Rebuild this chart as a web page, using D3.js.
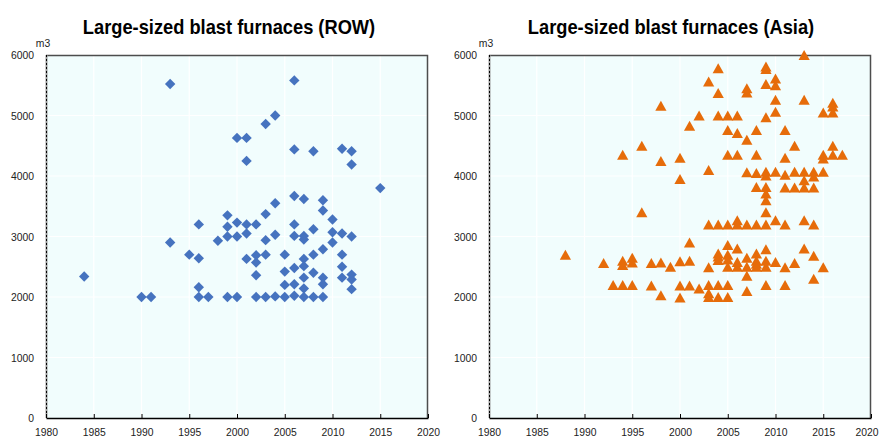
<!DOCTYPE html>
<html>
<head>
<meta charset="utf-8">
<script src="https://cdn.jsdelivr.net/npm/d3@7"></script>
<style>
  html, body { margin: 0; padding: 0; background: #fff; }
  svg { display: block; }
  text { font-family: "Liberation Sans Narrow", "Arial Narrow", "Liberation Sans", Arial, sans-serif; }
</style>
</head>
<body>
<svg id="chart" width="882" height="439"></svg>
<script>
// ---------- data ----------
const titles = ["Large-sized blast furnaces (ROW)", "Large-sized blast furnaces (Asia)"];
const unitLabel = "m3";
const xTicks = [1980, 1985, 1990, 1995, 2000, 2005, 2010, 2015, 2020];
const yTicks = [0, 1000, 2000, 3000, 4000, 5000, 6000];

// ROW: [start-up year, volume m3]
const rowPoints = [
  [1984, 2340], [1990, 2000], [1991, 2000],
  [1993, 5520], [1993, 2900], [1995, 2700],
  [1996, 3200], [1996, 2640], [1996, 2160], [1996, 2000],
  [1997, 2000], [1998, 2930],
  [1999, 3350], [1999, 3160], [1999, 3000], [1999, 2000],
  [2000, 4630], [2000, 3230], [2000, 3000], [2000, 2000],
  [2001, 4630], [2001, 4250], [2001, 3200], [2001, 3050], [2001, 2630],
  [2002, 3200], [2002, 2690], [2002, 2570], [2002, 2360], [2002, 2000],
  [2003, 4860], [2003, 3370], [2003, 2940], [2003, 2700], [2003, 2000],
  [2004, 5000], [2004, 3550], [2004, 3030], [2004, 2010],
  [2005, 2700], [2005, 2420], [2005, 2200], [2005, 2000],
  [2006, 5580], [2006, 4440], [2006, 3670], [2006, 3200], [2006, 3010], [2006, 2480], [2006, 2210], [2006, 2020],
  [2007, 3620], [2007, 3010], [2007, 2950], [2007, 2630], [2007, 2510], [2007, 2320], [2007, 2140], [2007, 2000],
  [2008, 4410], [2008, 3120], [2008, 2700], [2008, 2400], [2008, 2000],
  [2009, 3600], [2009, 3430], [2009, 2790], [2009, 2320], [2009, 2210], [2009, 2000],
  [2010, 3280], [2010, 3070], [2010, 2900],
  [2011, 4450], [2011, 3050], [2011, 2700], [2011, 2500], [2011, 2320],
  [2012, 4410], [2012, 4190], [2012, 3000], [2012, 2370], [2012, 2290], [2012, 2130],
  [2015, 3800]
];

// Asia: [start-up year, volume m3]
const asiaPoints = [
  [1988, 2700], [1992, 2560], [1993, 2200],
  [1994, 4350], [1994, 2600], [1994, 2530], [1994, 2200],
  [1995, 2650], [1995, 2570], [1995, 2200],
  [1996, 4500], [1996, 3400],
  [1997, 2560], [1997, 2190],
  [1998, 5160], [1998, 4250], [1998, 2570], [1998, 2030],
  [1999, 2500],
  [2000, 4300], [2000, 3950], [2000, 2590], [2000, 2190], [2000, 1990],
  [2001, 4830], [2001, 2900], [2001, 2600], [2001, 2190],
  [2002, 5000], [2002, 2140],
  [2003, 5560], [2003, 4100], [2003, 3200], [2003, 2490], [2003, 2200], [2003, 2060], [2003, 2000],
  [2004, 5780], [2004, 5370], [2004, 5000], [2004, 3200], [2004, 2720], [2004, 2670], [2004, 2610], [2004, 2200], [2004, 2000],
  [2005, 5000], [2005, 4760], [2005, 4350], [2005, 3200], [2005, 2860], [2005, 2700], [2005, 2620], [2005, 2500], [2005, 2200], [2005, 2000],
  [2006, 5000], [2006, 4710], [2006, 4350], [2006, 3270], [2006, 3200], [2006, 2800], [2006, 2580], [2006, 2500],
  [2007, 5450], [2007, 5380], [2007, 4600], [2007, 4060], [2007, 3200], [2007, 2650], [2007, 2500], [2007, 2350], [2007, 2100],
  [2008, 4760], [2008, 4350], [2008, 4050], [2008, 3820], [2008, 3200], [2008, 2720], [2008, 2600], [2008, 2550], [2008, 2500],
  [2009, 5810], [2009, 5770], [2009, 5520], [2009, 4970], [2009, 4070], [2009, 4010], [2009, 3820], [2009, 3710], [2009, 3600],
  [2009, 3400], [2009, 3200], [2009, 2790], [2009, 2600], [2009, 2500], [2009, 2200],
  [2010, 5610], [2010, 5500], [2010, 5260], [2010, 5060], [2010, 4070], [2010, 3270], [2010, 2580],
  [2011, 4760], [2011, 4300], [2011, 4020], [2011, 3810], [2011, 3200], [2011, 2490], [2011, 2200],
  [2012, 4500], [2012, 4070], [2012, 3810], [2012, 2560],
  [2013, 6000], [2013, 5260], [2013, 4070], [2013, 3930], [2013, 3810], [2013, 3270], [2013, 2800],
  [2014, 4070], [2014, 3990], [2014, 3810], [2014, 3200], [2014, 2680], [2014, 2300],
  [2015, 5050], [2015, 4350], [2015, 4290], [2015, 4070], [2015, 2490],
  [2016, 5210], [2016, 5150], [2016, 5050], [2016, 4500], [2016, 4350],
  [2017, 4350]
];

// ---------- drawing ----------
const svg = d3.select("#chart");
const plotTop = 55, plotBottom = 418, svgWidth = 882;

const panels = [
  { left: 46, right: 428, data: rowPoints, title: titles[0], titleX: 229, color: "#4673bf", shape: "diamond" },
  { left: 489, right: 871, data: asiaPoints, title: titles[1], titleX: 671, color: "#e66c0a", shape: "triangle" }
];

const diamond = "M0,-5.2L5.2,0L0,5.2L-5.2,0Z";
const triangle = "M0,-5L5.6,5L-5.6,5Z";
const fontStack = '"Liberation Sans Narrow", "Arial Narrow", "Liberation Sans", Arial, sans-serif';

// condense text horizontally (narrow-font look)
function condense(sel, factor) {
  sel.each(function () {
    const len = this.getComputedTextLength();
    d3.select(this).attr("textLength", len * factor).attr("lengthAdjust", "spacingAndGlyphs");
  });
}

panels.forEach(p => {
  const x = d3.scaleLinear().domain([1980, 2020]).range([p.left, p.right]);
  const y = d3.scaleLinear().domain([0, 6000]).range([plotBottom, plotTop]);
  const g = svg.append("g");

  g.append("rect")
    .attr("x", p.left).attr("y", plotTop)
    .attr("width", p.right - p.left).attr("height", plotBottom - plotTop)
    .attr("fill", "#f1fdfd");

  g.append("g").selectAll("line").data(xTicks.slice(1, -1)).join("line")
    .attr("x1", d => x(d)).attr("x2", d => x(d))
    .attr("y1", plotTop).attr("y2", plotBottom)
    .attr("stroke", "#ffffff").attr("stroke-width", 1.2);
  g.append("g").selectAll("line").data(yTicks.slice(1, -1)).join("line")
    .attr("x1", p.left).attr("x2", p.right)
    .attr("y1", d => y(d)).attr("y2", d => y(d))
    .attr("stroke", "#ffffff").attr("stroke-width", 1.2);

  g.append("path")
    .attr("d", `M${p.left},${plotTop + 0.5}H${p.right - 0.5}V${plotBottom}`)
    .attr("fill", "none").attr("stroke", "#4d4d4d").attr("stroke-width", 1.5);

  g.append("line")
    .attr("x1", p.left + 0.5).attr("x2", p.left + 0.5)
    .attr("y1", plotTop).attr("y2", plotBottom)
    .attr("stroke", "#9a9a9a").attr("stroke-width", 2);
  g.append("line")
    .attr("x1", p.left + 0.5).attr("x2", p.left + 0.5)
    .attr("y1", plotTop).attr("y2", plotBottom)
    .attr("stroke", "#000").attr("stroke-width", 1).attr("stroke-dasharray", "2,2");

  const xAxis = d3.axisBottom(x).tickValues(xTicks).tickFormat(d3.format("d"))
    .tickSizeInner(-4).tickSizeOuter(0).tickPadding(10);
  const xa = g.append("g").attr("transform", `translate(0,${plotBottom})`).call(xAxis);
  xa.select(".domain").attr("stroke", "#000").attr("stroke-width", 1.5);
  xa.selectAll(".tick line").attr("stroke", "#000").attr("stroke-width", 1);
  xa.selectAll(".tick text").attr("font-size", 11.5).attr("fill", "#222")
    .attr("font-family", fontStack).call(condense, 0.9);
  // keep a label that would overflow the page edge inside it
  xa.selectAll(".tick text").each(function (d) {
    const w = +this.getAttribute("textLength");
    if (x(d) + w / 2 > svgWidth - 4) {
      d3.select(this).attr("text-anchor", "end").attr("x", (svgWidth - 4) - x(d));
    }
  });

  const yAxis = d3.axisLeft(y).tickValues(yTicks).tickFormat(d3.format("d"))
    .tickSize(0).tickPadding(12);
  const ya = g.append("g").attr("transform", `translate(${p.left},0)`).call(yAxis);
  ya.select(".domain").remove();
  ya.selectAll(".tick text").attr("font-size", 11.5).attr("fill", "#222")
    .attr("font-family", fontStack).call(condense, 0.9);

  g.append("text")
    .attr("x", p.left - 3).attr("y", 47)
    .attr("text-anchor", "middle")
    .attr("font-size", 11.5).attr("fill", "#222")
    .text(unitLabel).call(condense, 0.9);

  g.append("text")
    .attr("x", p.titleX).attr("y", 34)
    .attr("text-anchor", "middle")
    .attr("font-size", 21).attr("font-weight", "bold").attr("fill", "#000")
    .text(p.title).call(condense, 0.87);

  g.append("g").selectAll("path").data(p.data).join("path")
    .attr("transform", d => `translate(${x(d[0])},${y(d[1])})`)
    .attr("d", p.shape === "diamond" ? diamond : triangle)
    .attr("fill", p.color);
});
</script>
</body>
</html>
